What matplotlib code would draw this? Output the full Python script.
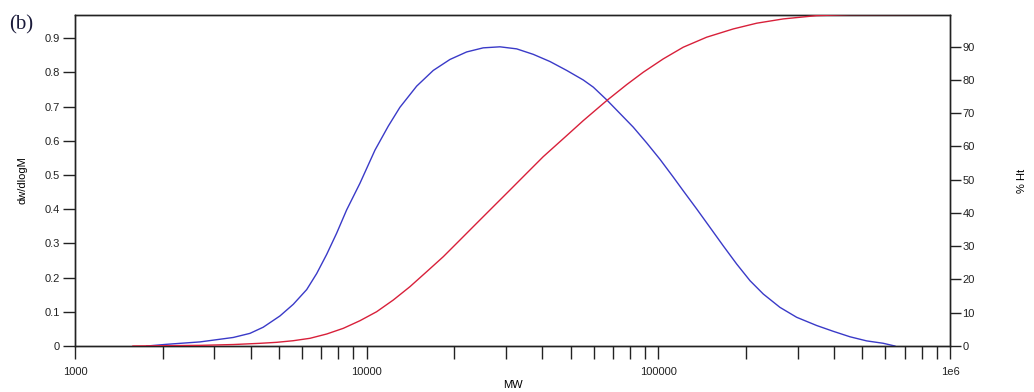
import numpy as np
import matplotlib
matplotlib.use("Agg")
import matplotlib.pyplot as plt
from matplotlib.ticker import FixedLocator, FuncFormatter, LogLocator, NullFormatter

plt.rcParams['font.family'] = ['Liberation Sans', 'DejaVu Sans']

# dw/dlogM distribution (blue, left axis)
mw_dist = [1762, 2063, 2683, 3488, 3980, 4420, 5045, 5603, 6229, 6741,
           7294, 7891, 8538, 9485, 10680, 11860, 13000, 14840, 16920, 19300,
           22020, 25100, 28640, 32680, 37250, 42500, 48490, 55280, 59850,
           66500, 73870, 82040, 91200, 101300, 112500, 121700, 135300,
           150300, 166900, 185500, 206200, 229000, 261200, 298000, 348900,
           397800, 454000, 517600, 590200, 647000]
dwdlogm = [0.0, 0.005, 0.012, 0.025, 0.037, 0.055, 0.088, 0.122, 0.165, 0.212,
           0.268, 0.330, 0.398, 0.476, 0.573, 0.643, 0.698, 0.760, 0.806, 0.838,
           0.860, 0.872, 0.875, 0.869, 0.853, 0.832, 0.806, 0.778, 0.757,
           0.720, 0.680, 0.640, 0.594, 0.546, 0.494, 0.454, 0.401,
           0.347, 0.293, 0.240, 0.191, 0.152, 0.113, 0.084, 0.060,
           0.043, 0.027, 0.015, 0.008, 0.0]

# cumulative % Ht (red, right axis)
mw_cum = [1580, 2680, 3500, 4306, 4914, 5597, 6393, 7294, 8316, 9485,
          10820, 12340, 14070, 16060, 18310, 20890, 23830, 27170, 31000,
          35360, 40310, 42500, 48490, 55280, 66500, 77870, 88760, 103900,
          121700, 146400, 180700, 217400, 268200, 348900, 454000, 887000]
pct_ht = [0.0, 0.2, 0.45, 0.81, 1.11, 1.59, 2.32, 3.61, 5.32, 7.61,
          10.31, 13.83, 17.83, 22.34, 26.85, 31.87, 36.9, 41.89, 46.9,
          51.93, 56.92, 58.73, 63.24, 67.75, 73.76, 78.57, 82.30, 86.30,
          89.82, 92.83, 95.32, 97.04, 98.33, 99.32, 99.62, 99.7]

left_ticks = [0, 0.1, 0.2, 0.3, 0.4, 0.5, 0.6, 0.7, 0.8, 0.9]
right_ticks = [0, 10, 20, 30, 40, 50, 60, 70, 80, 90]
x_ticks = [1000, 10000, 100000, 1000000]
x_labels = ['1000', '10000', '100000', '1e6']

fig = plt.figure(figsize=(10.34, 3.92), dpi=100)
ax = fig.add_axes([0.0725, 0.1173, 0.8463, 0.8444])
ax2 = ax.twinx()

ax.plot(mw_dist, dwdlogm, color='#3a3ac8', lw=1.0, zorder=3)
ax2.plot(mw_cum, pct_ht, color='#d8203a', lw=1.0, zorder=3)

ax.set_xscale('log')
ax.set_xlim(1000, 1e6)
ax.set_ylim(0, 0.968)
ax2.set_ylim(0, 99.5)

ax.xaxis.set_major_locator(FixedLocator(x_ticks))
ax.set_xticklabels(x_labels)
ax.xaxis.set_minor_locator(LogLocator(base=10, subs=np.arange(2, 10)))
ax.xaxis.set_minor_formatter(NullFormatter())

ax.set_yticks(left_ticks)
ax.yaxis.set_major_formatter(FuncFormatter(lambda v, p: '0' if v == 0 else f'{v:.1f}'))
ax2.set_yticks(right_ticks)

for a in (ax, ax2):
    for s in a.spines.values():
        s.set_linewidth(1.0)
        s.set_color('#222222')
ax.tick_params(axis='both', which='both', direction='out', length=9, width=1.0,
               labelsize=8, colors='#222222')
ax.tick_params(axis='x', which='major', pad=6)
ax2.tick_params(axis='y', direction='out', length=8, width=1.0, labelsize=8,
                colors='#222222', pad=1)
ax.tick_params(axis='y', pad=2)

ax.set_xlabel('MW', fontsize=8, labelpad=2)
ax.set_ylabel('dw/dlogM', fontsize=8, labelpad=12)
ax2.set_ylabel('% Ht', fontsize=8, rotation=90, labelpad=30)

fig.text(0.009, 0.925, '(b)', family=['Liberation Serif'], fontsize=15,
         color='#1a1a3a')

fig.savefig('out.png', dpi=100)
